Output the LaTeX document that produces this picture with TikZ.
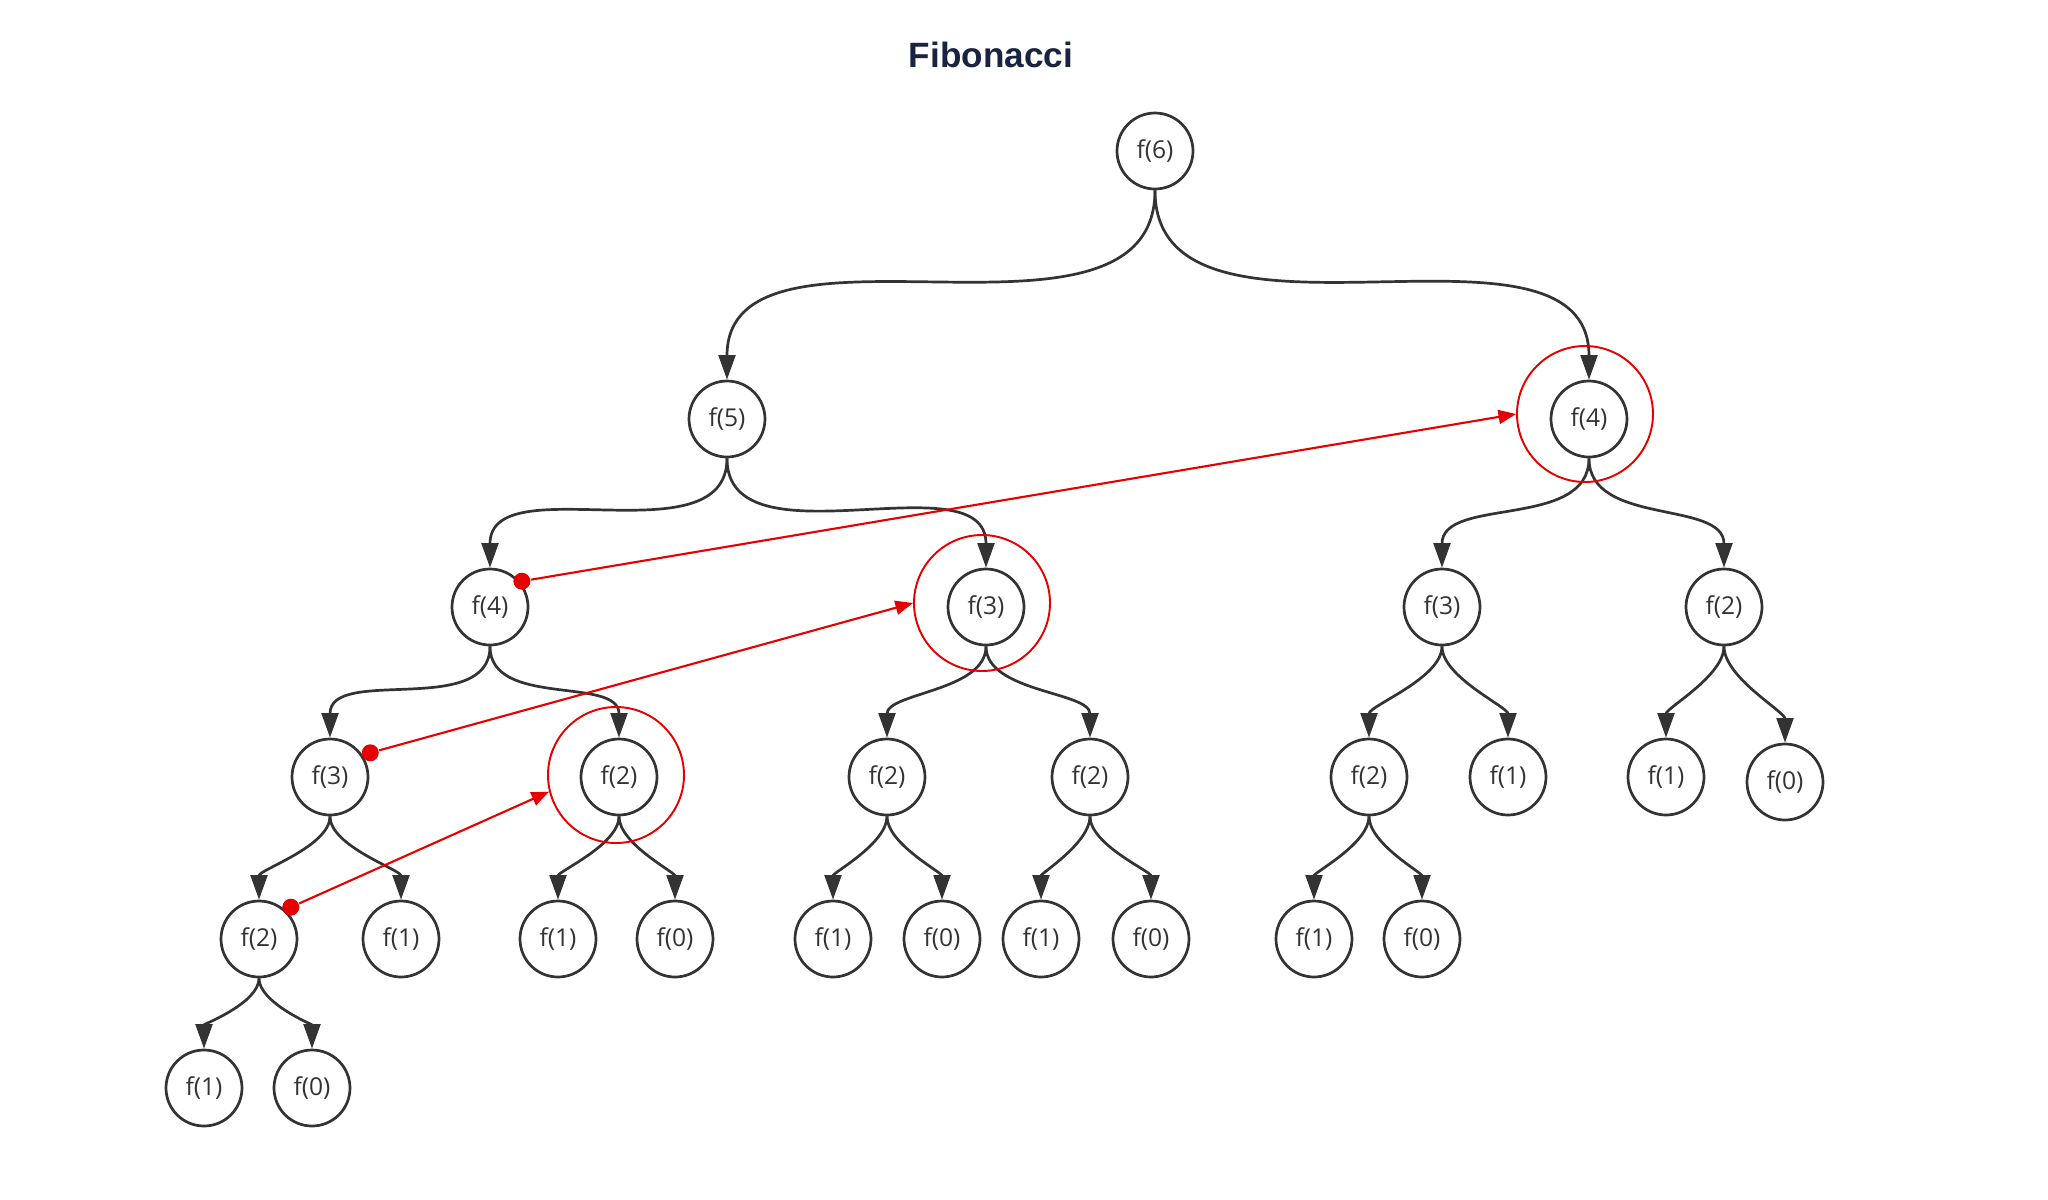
\documentclass[tikz,border=0pt]{standalone}
\usepackage{fontspec}
\setmainfont{Open Sans}
\newfontfamily\titlefont{Liberation Sans}
\usetikzlibrary{arrows.meta}
\definecolor{fibgray}{HTML}{333333}
\definecolor{fibred}{HTML}{E60000}
\definecolor{fibnavy}{HTML}{1A2340}

\begin{document}
\begin{tikzpicture}[
  fibnode/.style={draw=fibgray, circle, line width=0.77pt, minimum size=0.76cm, inner sep=0pt, text=fibgray, font=\fontsize{7}{8}\selectfont},
  fibedge/.style={draw=fibgray, line width=0.77pt, -{Triangle[length=7pt,width=4.8pt]}, out=-90, in=90, looseness=0.7},
  longedge/.style={fibedge, looseness=1},
  memoring/.style={draw=fibred, circle, line width=0.55pt, minimum size=1.36cm, inner sep=0pt},
  memodot/.style={fill=fibred, circle, minimum size=0.17cm, inner sep=0pt},
  memoarrow/.style={draw=fibred, line width=0.6pt, -{Triangle[length=5pt,width=4pt]}}
]
\useasboundingbox (0,0) rectangle (20.48,-12);

\node[font=\titlefont\bfseries\fontsize{10}{12}\selectfont, text=fibnavy] (title) at (9.91,-0.55) {Fibonacci};

% level 1 and 2
\node[fibnode] (f6) at (11.55,-1.51) {f(6)};
\node[fibnode] (f5) at (7.27,-4.19) {f(5)};
\node[fibnode] (f4b) at (15.89,-4.19) {f(4)};

% level 3
\node[fibnode] (f4a) at (4.90,-6.07) {f(4)};
\node[fibnode] (f3b) at (9.86,-6.07) {f(3)};
\node[fibnode] (f3c) at (14.42,-6.07) {f(3)};
\node[fibnode] (f2f) at (17.24,-6.07) {f(2)};

% level 4
\node[fibnode] (f3a) at (3.30,-7.77) {f(3)};
\node[fibnode] (f2b) at (6.19,-7.77) {f(2)};
\node[fibnode] (f2c) at (8.87,-7.77) {f(2)};
\node[fibnode] (f2d) at (10.90,-7.77) {f(2)};
\node[fibnode] (f2e) at (13.69,-7.77) {f(2)};
\node[fibnode] (f1f) at (15.08,-7.77) {f(1)};
\node[fibnode] (f1g) at (16.66,-7.77) {f(1)};
\node[fibnode] (f0g) at (17.85,-7.82) {f(0)};

% level 5
\node[fibnode] (f2a) at (2.59,-9.39) {f(2)};
\node[fibnode] (f1a) at (4.01,-9.39) {f(1)};
\node[fibnode] (f1b) at (5.58,-9.39) {f(1)};
\node[fibnode] (f0b) at (6.75,-9.39) {f(0)};
\node[fibnode] (f1c) at (8.33,-9.39) {f(1)};
\node[fibnode] (f0c) at (9.42,-9.39) {f(0)};
\node[fibnode] (f1d) at (10.41,-9.39) {f(1)};
\node[fibnode] (f0d) at (11.51,-9.39) {f(0)};
\node[fibnode] (f1e) at (13.14,-9.39) {f(1)};
\node[fibnode] (f0e) at (14.22,-9.39) {f(0)};

% level 6
\node[fibnode] (f1x) at (2.04,-10.88) {f(1)};
\node[fibnode] (f0x) at (3.12,-10.88) {f(0)};

% calls
\draw[longedge] (f6.south) to (f5.north);
\draw[longedge] (f6.south) to (f4b.north);
\draw[longedge] (f5.south) to (f4a.north);
\draw[longedge] (f5.south) to (f3b.north);
\draw[longedge] (f4b.south) to (f3c.north);
\draw[longedge] (f4b.south) to (f2f.north);
\draw[longedge] (f4a.south) to (f3a.north);
\draw[longedge] (f4a.south) to (f2b.north);
\draw[fibedge, looseness=0.85] (f3b.south) to (f2c.north);
\draw[fibedge, looseness=0.85] (f3b.south) to (f2d.north);
\draw[fibedge] (f3c.south) to (f2e.north);
\draw[fibedge] (f3c.south) to (f1f.north);
\draw[fibedge] (f2f.south) to (f1g.north);
\draw[fibedge] (f2f.south) to (f0g.north);
\draw[fibedge] (f3a.south) to (f2a.north);
\draw[fibedge] (f3a.south) to (f1a.north);
\draw[fibedge] (f2b.south) to (f1b.north);
\draw[fibedge] (f2b.south) to (f0b.north);
\draw[fibedge] (f2c.south) to (f1c.north);
\draw[fibedge] (f2c.south) to (f0c.north);
\draw[fibedge] (f2d.south) to (f1d.north);
\draw[fibedge] (f2d.south) to (f0d.north);
\draw[fibedge] (f2e.south) to (f1e.north);
\draw[fibedge] (f2e.south) to (f0e.north);
\draw[fibedge] (f2a.south) to (f1x.north);
\draw[fibedge] (f2a.south) to (f0x.north);

% repeated calls
\node[memoring, xshift=-0.04cm, yshift=0.05cm] (m4) at (f4b) {};
\node[memoring, xshift=-0.04cm, yshift=0.04cm] (m3) at (f3b) {};
\node[memoring, xshift=-0.03cm, yshift=0.02cm] (m2) at (f2b) {};
\node[memodot] (d4) at ([shift={(39:0.41)}]f4a.center) {};
\node[memodot] (d3) at ([shift={(31:0.47)}]f3a.center) {};
\node[memodot] (d2) at ([shift={(45:0.45)}]f2a.center) {};
\draw[memoarrow] (d4) -- (m4.west);
\draw[memoarrow] (d3) -- (m3.west);
\draw[memoarrow] (d2) -- (m2.194);
\end{tikzpicture}
\end{document}
